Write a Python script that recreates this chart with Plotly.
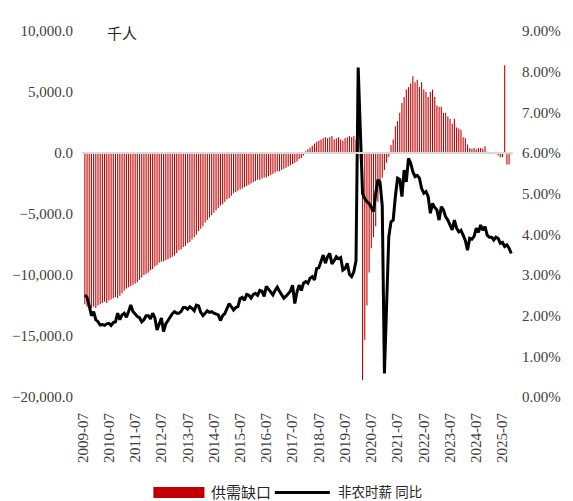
import plotly.graph_objects as go

# Monthly category axis, 2009-07 through 2025-11 (labels every July)
months = [f"{y}-{m:02d}" for y in range(2009, 2026) for m in range(1, 13)
          if (2009, 7) <= (y, m) <= (2025, 11)]
data_months = months[1:]          # series begin one month after the first label
tick_labels = months[::12]

# Labour supply-demand gap (thousand persons)
gap = [
    -12400, -12600, -12800, -12700, -12600, -12700, -12500, -12400, -12300, -12200, -12300, -12100,
    -12000, -11900, -11800, -11900, -11700, -11500, -11300, -11100, -11000, -10900, -10800, -10700,
    -10600, -10400, -10200, -10000, -9900, -9800, -9600, -9500, -9300, -9200, -9000, -8900,
    -8900, -8800, -8700, -8600, -8500, -8400, -8200, -8000, -7900, -7700, -7600,
    -7400, -7300, -7100, -6900, -6700, -6400, -6200, -6000, -5700, -5500, -5300, -5100,
    -4900, -4700, -4500, -4300, -4200, -4000, -3800, -3700, -3500, -3300, -3200, -3100,
    -3000, -2900, -2800, -2700, -2600, -2500, -2400, -2300, -2200, -2200, -2100, -2000,
    -2000, -1900, -1800, -1700, -1600, -1500, -1500, -1400, -1300, -1200, -1100, -1000,
    -900, -800, -700, -500, -400, -200, 150, 300, 450, 600, 750, 900,
    1000, 1100, 1200, 1300, 1200, 1300, 1400, 1100, 1200, 1300, 1100, 1000,
    1200, 1300, 1400, 1300, 1400, 1100, 900, -500, -18600, -15300, -12500,
    -9800, -7800, -6900, -6000, -4000, -2800, -2000, -1400, -800, -300, 650, 1100,
    2200, 2600, 3300, 4100, 4600, 5200, 5400, 5700, 6300, 5800, 6000, 5400,
    5800, 5200, 5000, 4600, 5000, 5200, 4600, 3900, 3800, 3800, 3300, 3300,
    3000, 2800, 2400, 2800, 2100, 2000, 1900, 1300, 1200, 700, 400, 350,
    400, 300, 400, 400, 350, 550, 100, -100, 30, 50, 100, -200,
    -350, -350, 7200, -950, -950, -100,
]

# Non-farm average hourly earnings, year-over-year (%)
wage_yoy = [
    2.51, 2.45, 2.25, 2.00, 2.10, 1.90, 1.85, 1.77, 1.78, 1.76, 1.80, 1.81,
    1.76, 1.83, 1.85, 2.06, 1.90, 2.02, 2.06, 1.96, 2.10, 2.26, 2.10, 2.04,
    1.98, 1.95, 1.85, 1.90, 2.00, 2.00, 1.92, 2.06, 1.95, 1.65, 1.80, 1.94,
    1.61, 1.80, 1.88, 1.97, 2.05, 2.10, 2.06, 2.06, 2.10, 2.20, 2.20,
    2.16, 2.22, 2.18, 2.12, 2.26, 2.24, 2.08, 2.00, 2.06, 2.12, 2.08, 2.10,
    2.06, 2.04, 2.02, 1.88, 2.00, 2.05, 2.20, 2.30, 2.22, 2.14, 2.20, 2.22,
    2.42, 2.45, 2.38, 2.52, 2.50, 2.43, 2.52, 2.55, 2.50, 2.62, 2.60, 2.47,
    2.72, 2.65, 2.58, 2.51, 2.62, 2.70, 2.60, 2.52, 2.43, 2.48, 2.55, 2.60,
    2.75, 2.30, 2.58, 2.75, 2.62, 2.80, 2.84, 2.80, 2.92, 2.96, 2.88, 3.16,
    3.18, 3.33, 3.49, 3.29, 3.45, 3.53, 3.27, 3.35, 3.45, 3.40, 3.43, 3.12,
    3.16, 3.29, 3.02, 2.96, 3.08, 3.35, 8.10, 6.50, 5.00, 4.88, 4.80, 4.76,
    4.65, 4.56, 5.00, 5.34, 5.28, 4.70, 0.58, 2.60, 3.94, 4.31, 4.35, 4.93,
    5.38, 5.35, 4.93, 5.58, 5.29, 5.87, 5.75, 5.54, 5.42, 5.45, 5.38, 5.13,
    5.01, 5.05, 4.93, 4.52, 4.76, 4.66, 4.60, 4.35, 4.68, 4.60, 4.43, 4.35,
    4.23, 4.11, 4.35, 4.15, 4.06, 4.10, 3.98, 3.85, 3.61, 3.90, 3.88,
    3.95, 4.15, 4.05, 4.23, 4.10, 4.19, 3.98, 3.93, 3.93, 3.86, 3.93, 3.90,
    3.78, 3.80, 3.70, 3.74, 3.66, 3.53,
]

W, H = 573, 501
L, R, T, B = 78, 48, 31, 104
plot_w = W - L - R
plot_h = H - T - B
X_RANGE = [-0.31, 196.8]

def px_x(px):
    return (px - L) / plot_w

def px_y(py):
    return (H - B - py) / plot_h

RED = "#C00000"
TXT = "#404040"
FONT = "Liberation Serif, Noto Sans CJK SC, serif"

fig = go.Figure()
fig.add_trace(go.Bar(
    x=data_months, y=gap, name="供需缺口",
    marker=dict(color=RED, line=dict(width=0)),
    showlegend=False,
))
fig.add_trace(go.Scatter(
    x=data_months, y=wage_yoy, name="非农时薪 同比", yaxis="y2",
    mode="lines", line=dict(color="black", width=3),
    showlegend=False,
))

fig.update_layout(
    width=W, height=H,
    margin=dict(l=L, r=R, t=T, b=B, pad=0),
    paper_bgcolor="white", plot_bgcolor="white",
    bargap=0.5,
    font=dict(family=FONT, size=15, color=TXT),
    xaxis=dict(
        type="category", categoryorder="array", categoryarray=months,
        range=X_RANGE,
        tickmode="array", tickvals=tick_labels, ticktext=tick_labels,
        tickangle=-90, showgrid=False, showline=False, ticks="",
        zeroline=False, ticklabelstandoff=12,
        tickfont=dict(family=FONT, size=15, color=TXT),
    ),
    yaxis=dict(
        range=[-20000, 10000], dtick=5000, tickformat=",.1f",
        showgrid=False, showline=False, ticks="", zeroline=False,
        ticklabelstandoff=8,
        tickfont=dict(family=FONT, size=15, color=TXT),
    ),
    yaxis2=dict(
        overlaying="y", side="right",
        range=[0, 9], dtick=1, tickformat=".2f", ticksuffix="%",
        showgrid=False, showline=False, ticks="", zeroline=False,
        ticklabelstandoff=8,
        tickfont=dict(family=FONT, size=15, color=TXT),
    ),
    shapes=[
        # horizontal category axis line at zero, drawn over the bars
        dict(type="line", xref="paper", yref="y", layer="above",
             x0=0, x1=1, y0=0, y1=0,
             line=dict(color="#D9D9D9", width=2)),
        # legend swatches
        dict(type="rect", xref="paper", yref="paper",
             x0=px_x(152), x1=px_x(205), y0=px_y(498), y1=px_y(487),
             fillcolor=RED, line=dict(width=0)),
        dict(type="line", xref="paper", yref="paper",
             x0=px_x(278), x1=px_x(335), y0=px_y(492.5), y1=px_y(492.5),
             line=dict(color="black", width=3)),
    ],
    annotations=[
        dict(text="千人", xref="paper", yref="paper", x=px_x(102), y=px_y(34),
             xanchor="left", yanchor="middle", showarrow=False,
             font=dict(family=FONT, size=15, color="#262626")),
        dict(text="供需缺口", xref="paper", yref="paper", x=px_x(210), y=px_y(492.5),
             xanchor="left", yanchor="middle", showarrow=False,
             font=dict(family=FONT, size=15, color="#262626")),
        dict(text="非农时薪 同比", xref="paper", yref="paper", x=px_x(341), y=px_y(492.5),
             xanchor="left", yanchor="middle", showarrow=False,
             font=dict(family=FONT, size=13.5, color="#262626")),
    ],
)

fig.write_html("out.html", config={"staticPlot": True})
